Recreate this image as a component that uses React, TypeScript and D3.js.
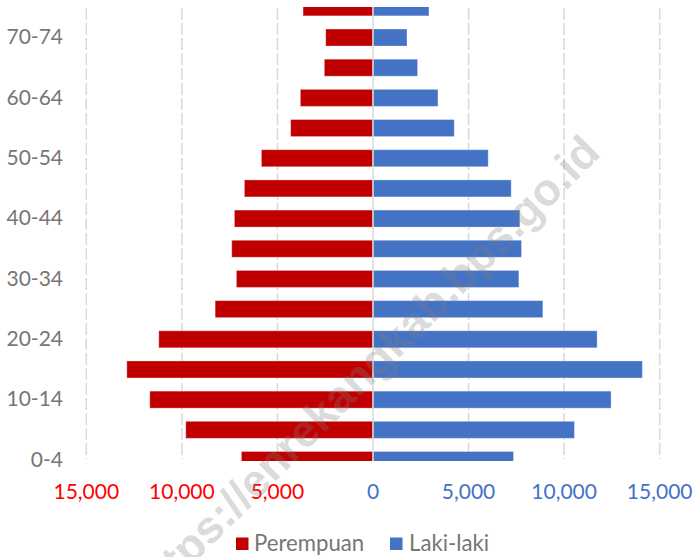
import React from "react";
import * as d3 from "d3";

const ageGroups = ["0-4","5-9","10-14","15-19","20-24","25-29","30-34","35-39","40-44","45-49","50-54","55-59","60-64","65-69","70-74","75+"];
const perempuan = [6884, 9796, 11678, 12880, 11207, 8259, 7146, 7391, 7250, 6727, 5839, 4307, 3800, 2545, 2473, 3659];
const lakiLaki = [7350, 10538, 12457, 14093, 11725, 8886, 7632, 7768, 7684, 7230, 6027, 4250, 3398, 2331, 1777, 2927];
const xTicks = [-15000, -10000, -5000, 0, 5000, 10000, 15000];
const ageLabelsShown = ["0-4","10-14","20-24","30-34","40-44","50-54","60-64","70-74"];
const legendItems = ["Perempuan", "Laki-laki"];
const watermark = "https://enrekangkab.bps.go.id";

const W = 696, H = 557;
const RED = "#C00000", BLUE = "#4472C4";
const FONT = "Lato, 'Open Sans', sans-serif";

export default function App() {
  const x = d3.scaleLinear().domain([-15000, 15000]).range([86.3, 659.7]);
  const y = d3.scalePoint<string>().domain(ageGroups).range([460, 7.35]);
  const barH = 17;
  const plotTop = 7, plotBottom = 461;
  const fmt = d3.format(",");

  return (
    <svg width={W} height={H} style={{ position: "absolute", left: 0, top: 0, background: "#fff" }}>
      <defs>
        <clipPath id="plot">
          <rect x={0} y={plotTop} width={W} height={plotBottom - plotTop} />
        </clipPath>
      </defs>
      <rect width={W} height={H} fill="#fff" />
      {xTicks.filter(t => t !== 0).map(t => (
        <line key={t} x1={x(t)} x2={x(t)} y1={8} y2={459} stroke="#d9d9d9" strokeWidth={1.5} strokeDasharray="12,3" />
      ))}
      <g clipPath="url(#plot)">
        {ageGroups.map((a, i) => (
          <rect key={"p" + a} x={x(-perempuan[i])} y={(y(a) as number) - barH / 2} width={x(0) - x(-perempuan[i])} height={barH}
            fill={RED} stroke="rgba(255,255,255,0.3)" strokeWidth={1} />
        ))}
        {ageGroups.map((a, i) => (
          <rect key={"l" + a} x={x(0)} y={(y(a) as number) - barH / 2} width={x(lakiLaki[i]) - x(0)} height={barH}
            fill={BLUE} stroke="rgba(255,255,255,0.3)" strokeWidth={1} />
        ))}
      </g>
      <line x1={x(0)} x2={x(0)} y1={plotTop} y2={plotBottom} stroke="#d9d9d9" strokeWidth={1.5} />
      {ageLabelsShown.map(a => (
        <text key={a} x={63} y={(y(a) as number) + 6.8} textAnchor="end" fontFamily={FONT} fontSize={21} fill="#767676">{a}</text>
      ))}
      {xTicks.map(t => (
        <text key={t} x={x(t)} y={499} textAnchor="middle" fontFamily={FONT} fontSize={21} fill={t < 0 ? "#FF0000" : BLUE}>{fmt(Math.abs(t))}</text>
      ))}
      <rect x={236} y={537.5} width={12.5} height={12.5} fill={RED} />
      <text x={254} y={550.5} fontFamily={FONT} fontSize={22.2} fill="#767676">{legendItems[0]}</text>
      <rect x={390} y={537.5} width={12.5} height={12.5} fill={BLUE} />
      <text x={409} y={550.5} fontFamily={FONT} fontSize={22.2} fill="#767676">{legendItems[1]}</text>
      <text x={365} y={370} transform="rotate(-45 365 370)" textAnchor="middle" dominantBaseline="central"
        fontFamily="'Liberation Sans', Arial, sans-serif" fontWeight="bold" fontSize={45} fill="#7f7f7f" fillOpacity={0.3}>{watermark}</text>
    </svg>
  );
}
